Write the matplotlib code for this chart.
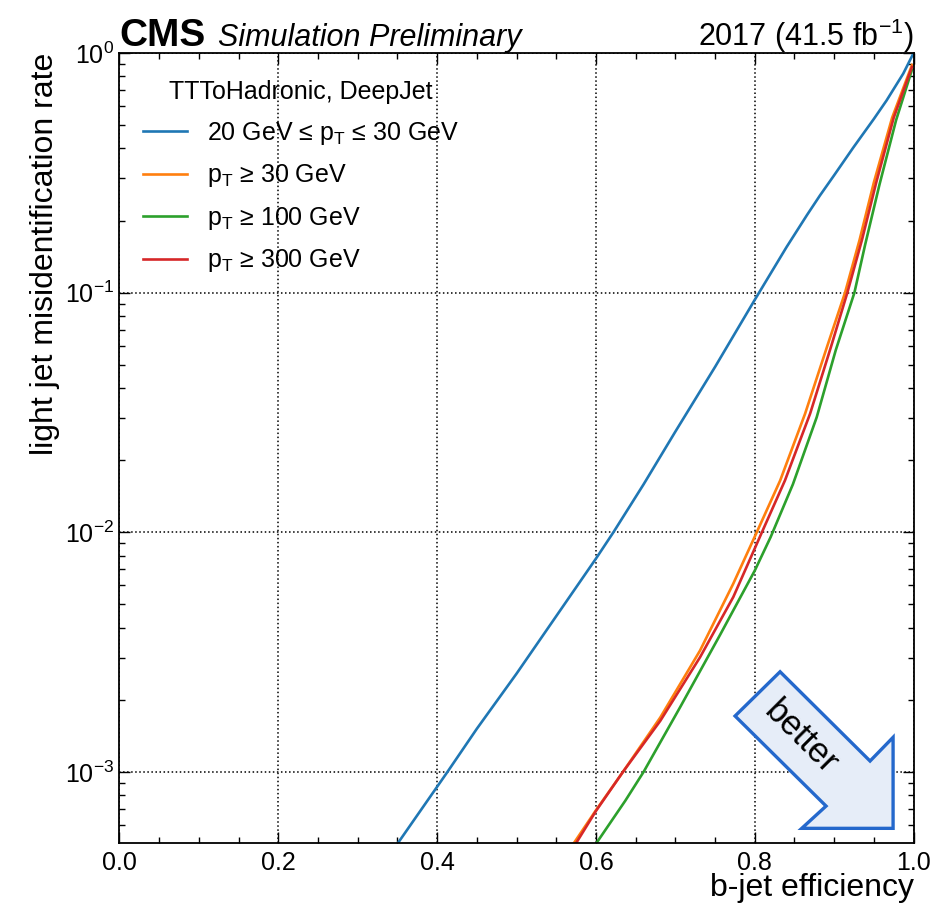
import numpy as np
import matplotlib
matplotlib.use("Agg")
import matplotlib.pyplot as plt
from matplotlib.patches import Polygon
from matplotlib.ticker import MultipleLocator, LogLocator, NullFormatter

plt.rcParams['font.family'] = ['Liberation Sans', 'DejaVu Sans']
plt.rcParams['mathtext.fontset'] = 'custom'
plt.rcParams['mathtext.rm'] = 'Liberation Sans'
plt.rcParams['mathtext.it'] = 'Liberation Sans:italic'
plt.rcParams['mathtext.bf'] = 'Liberation Sans:bold'
plt.rcParams['mathtext.default'] = 'regular'

# b-tag efficiency vs log10(light mistag rate), one curve per pT bin
eff_lowpt = [0.350, 0.413, 0.450, 0.500, 0.550, 0.600, 0.622, 0.660, 0.700,
             0.750, 0.800, 0.820, 0.840, 0.866, 0.882, 0.900, 0.924, 0.950,
             0.966, 0.987, 1.000]
lmis_lowpt = [-3.30, -3.00, -2.82, -2.59, -2.35, -2.11, -2.00, -1.80, -1.58,
              -1.31, -1.03, -0.92, -0.81, -0.675, -0.595, -0.51, -0.395, -0.275,
              -0.198, -0.086, 0.0]

eff_pt30 = [0.5716, 0.600, 0.634, 0.681, 0.731, 0.773, 0.8025, 0.832, 0.8634,
            0.891, 0.9137, 0.932, 0.950, 0.973, 0.998]
lmis_pt30 = [-3.30, -3.16, -3.00, -2.773, -2.494, -2.214, -2.00, -1.784, -1.505,
             -1.226, -1.00, -0.78, -0.54, -0.27, -0.05]

eff_pt100 = [0.600, 0.637, 0.660, 0.706, 0.756, 0.800, 0.820, 0.848, 0.878,
             0.902, 0.9255, 0.939, 0.957, 0.978, 0.998]
lmis_pt100 = [-3.30, -3.12, -3.00, -2.73, -2.43, -2.16, -2.02, -1.80, -1.52,
              -1.24, -1.00, -0.80, -0.55, -0.28, -0.07]

eff_pt300 = [0.5745, 0.600, 0.634, 0.681, 0.731, 0.773, 0.809, 0.838, 0.8697,
             0.896, 0.9166, 0.935, 0.953, 0.975, 0.998]
lmis_pt300 = [-3.30, -3.163, -3.00, -2.787, -2.522, -2.27, -2.00, -1.784, -1.505,
              -1.226, -1.00, -0.78, -0.54, -0.27, -0.058]

labels = ["20 GeV ≤ p$_\\mathrm{T}$ ≤ 30 GeV",
          "p$_\\mathrm{T}$ ≥ 30 GeV",
          "p$_\\mathrm{T}$ ≥ 100 GeV",
          "p$_\\mathrm{T}$ ≥ 300 GeV"]
colors = ["#1f77b4", "#ff7f0e", "#2ca02c", "#d62728"]

fig = plt.figure(figsize=(9.37, 9.06), dpi=100)
ax = fig.add_axes([0.1275, 0.0695, 0.8475, 0.872])

curves = [(eff_lowpt, lmis_lowpt), (eff_pt30, lmis_pt30),
          (eff_pt100, lmis_pt100), (eff_pt300, lmis_pt300)]
for (x, ly), c, lab in zip(curves, colors, labels):
    ax.plot(x, 10 ** np.array(ly), color=c, lw=1.9, label=lab,
            solid_joinstyle='round')

ax.set_yscale('log')
ax.set_xlim(0, 1)
ax.set_ylim(5.05e-4, 1)

ax.xaxis.set_major_locator(MultipleLocator(0.2))
ax.xaxis.set_minor_locator(MultipleLocator(0.05))
ax.yaxis.set_major_locator(LogLocator(base=10, numticks=10))
ax.yaxis.set_minor_locator(LogLocator(base=10, subs=np.arange(2, 10), numticks=20))
ax.yaxis.set_minor_formatter(NullFormatter())

ax.tick_params(which='both', direction='in', top=True, right=True, labelsize=18)
ax.tick_params(which='major', length=8, width=1)
ax.tick_params(which='minor', length=4.5, width=1)
ax.tick_params(axis='x', which='major', pad=6)
ax.tick_params(axis='y', which='major', pad=4)
for s in ax.spines.values():
    s.set_linewidth(1.3)

ax.grid(which='major', ls=':', color='black', lw=1.1)

ax.set_xlabel("b-jet efficiency", fontsize=23, loc='right')
ax.set_ylabel("light jet misidentification rate", fontsize=23, loc='top')
ax.xaxis.set_label_coords(1.0, -0.038)
ax.yaxis.set_label_coords(-0.075, 1.0)

leg = ax.legend(loc='upper left', bbox_to_anchor=(0.017, 0.978), frameon=False,
                fontsize=18, title="TTToHadronic, DeepJet", title_fontsize=18,
                handlelength=1.76, handletextpad=0.8, labelspacing=0.62,
                borderaxespad=0.0, borderpad=0.4)

# header
ax.text(0.0, 1.009, "CMS", transform=ax.transAxes, ha='left', va='baseline',
        fontsize=28, fontweight='bold')
ax.text(0.124, 1.009, "Simulation Preliminary", transform=ax.transAxes,
        ha='left', va='baseline', fontsize=22, style='italic')
ax.text(1.0, 1.009, "2017 (41.5 fb$^{-1}$)", transform=ax.transAxes,
        ha='right', va='baseline', fontsize=22)

# "better" arrow in the lower right corner
arrow_xy = [(0.8319, 0.2168), (0.9452, 0.1038), (0.9742, 0.1338),
            (0.9742, 0.0186), (0.8592, 0.0186), (0.8898, 0.0468),
            (0.7752, 0.1608)]
ax.add_patch(Polygon(arrow_xy, closed=True, transform=ax.transAxes,
                     facecolor='#e6edf8', edgecolor='#2468cc', lw=2.4,
                     joinstyle='miter', zorder=5))
ax.text(0.8575, 0.1335, "better", transform=ax.transAxes, rotation=-45,
        ha='center', va='center', fontsize=25, zorder=6,
        rotation_mode='anchor')

fig.savefig("out.png", dpi=100)
